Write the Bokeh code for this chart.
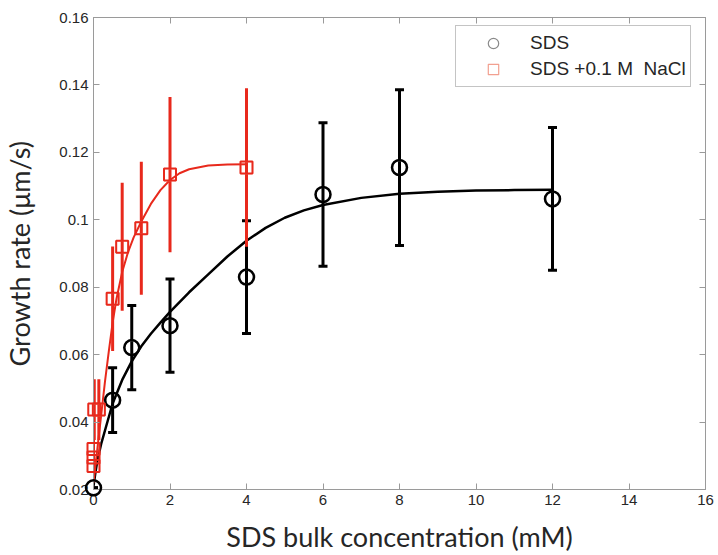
from bokeh.plotting import figure
from bokeh.models import (Range1d, LinearAxis, FixedTicker, Whisker, TeeHead,
                          ColumnDataSource, Legend, LegendItem)
from bokeh.embed import file_html
from bokeh.resources import INLINE

# ---- data ----
sds_x = [0, 0.5, 1, 2, 4, 6, 8, 12]
sds_y = [0.0205, 0.0465, 0.0621, 0.0686, 0.0830, 0.1075, 0.1155, 0.1062]
sds_err = [0.0, 0.0096, 0.0125, 0.0138, 0.0167, 0.0213, 0.0231, 0.0212]

nacl_x = [0, 0, 0, 0.02, 0.14, 0.5, 0.75, 1.25, 2, 4]
nacl_y = [0.027, 0.0295, 0.032, 0.0437, 0.0437, 0.0766, 0.0920, 0.0975, 0.1134, 0.1155]
nacl_err = [0.004, 0.004, 0.004, 0.009, 0.009, 0.0155, 0.019, 0.0197, 0.023, 0.0235]

# fitted curves
sds_fit_x = [0, 0.05, 0.1, 0.2, 0.3, 0.5, 0.75, 1, 1.25, 1.5, 1.75, 2, 2.5, 3, 3.5,
             4, 4.5, 5, 5.5, 6, 7, 8, 9, 10, 11, 12]
sds_fit_y = [0.021, 0.025, 0.0285, 0.0335, 0.0375, 0.0455, 0.0525, 0.0580, 0.0625,
             0.0662, 0.0695, 0.0727, 0.0785, 0.0838, 0.0891, 0.0938, 0.0976, 0.1006,
             0.1028, 0.1044, 0.1065, 0.1077, 0.1083, 0.1087, 0.1088, 0.1089]

nacl_fit_x = [0, 0.1, 0.2, 0.3, 0.4, 0.5, 0.6, 0.75, 0.9, 1.05, 1.25, 1.5, 1.75, 2,
              2.25, 2.5, 3, 3.5, 4]
nacl_fit_y = [0.022, 0.032, 0.042, 0.052, 0.061, 0.0695, 0.0765, 0.0845, 0.0903, 0.0948,
              0.0995, 0.1047, 0.1088, 0.1118, 0.1138, 0.1150, 0.1161, 0.1164, 0.1165]

x_ticks = [0, 2, 4, 6, 8, 10, 12, 14, 16]
y_ticks = [0.02, 0.04, 0.06, 0.08, 0.10, 0.12, 0.14, 0.16]
y_tick_labels = ["0.02", "0.04", "0.06", "0.08", "0.1", "0.12", "0.14", "0.16"]

legend_labels = ["SDS", "SDS +0.1 M  NaCl"]

BLACK = "#000000"
RED = "#e8291c"
FRAME = "#9a9a9a"
TXT = "#262626"

p = figure(width=718, height=555, x_range=Range1d(0, 16), y_range=Range1d(0.02, 0.16),
           output_backend="svg", toolbar_location=None,
           min_border_left=93, min_border_right=13, min_border_top=17, min_border_bottom=62)
p.xgrid.visible = False
p.ygrid.visible = False
p.outline_line_color = FRAME
p.background_fill_color = "white"
p.border_fill_color = "white"

def style_axis(ax, labels=True):
    ax.axis_line_color = FRAME
    ax.major_tick_line_color = FRAME
    ax.major_tick_in = 6
    ax.major_tick_out = 0
    ax.minor_tick_line_color = None
    ax.major_label_text_font = "Liberation Sans"
    ax.major_label_text_font_size = "15px"
    ax.major_label_text_color = TXT
    if not labels:
        ax.major_label_text_font_size = "0px"
        ax.major_label_text_alpha = 0
        ax.major_label_standoff = 0

p.xaxis.ticker = FixedTicker(ticks=x_ticks)
p.yaxis.ticker = FixedTicker(ticks=y_ticks)
p.yaxis.major_label_overrides = {t: l for t, l in zip(y_ticks, y_tick_labels)}
style_axis(p.xaxis[0])
style_axis(p.yaxis[0])
p.xaxis.axis_label = "SDS bulk concentration (mM)"
p.yaxis.axis_label = "Growth rate (\u03bcm/s)"
for ax in (p.xaxis[0], p.yaxis[0]):
    ax.axis_label_text_font = "Lato"
    ax.axis_label_text_font_size = "27px"
    ax.axis_label_text_font_style = "normal"
    ax.axis_label_text_color = TXT
p.xaxis[0].axis_label_standoff = 12
p.yaxis[0].axis_label_standoff = 20

top = LinearAxis(ticker=FixedTicker(ticks=x_ticks))
right = LinearAxis(ticker=FixedTicker(ticks=y_ticks))
style_axis(top, labels=False)
style_axis(right, labels=False)
p.add_layout(top, "above")
p.add_layout(right, "right")

# fit curves
p.line(sds_fit_x, sds_fit_y, line_color=BLACK, line_width=2.5)
p.line(nacl_fit_x, nacl_fit_y, line_color=RED, line_width=2)

# error bars
sds_src = ColumnDataSource(data=dict(x=sds_x, y=sds_y,
                                     upper=[a + b for a, b in zip(sds_y, sds_err)],
                                     lower=[a - b for a, b in zip(sds_y, sds_err)]))
nacl_src = ColumnDataSource(data=dict(x=nacl_x, y=nacl_y,
                                      upper=[a + b for a, b in zip(nacl_y, nacl_err)],
                                      lower=[a - b for a, b in zip(nacl_y, nacl_err)]))

p.segment(x0="x", y0="lower", x1="x", y1="upper", source=nacl_src,
          line_color=RED, line_width=3)
wk = Whisker(base="x", upper="upper", lower="lower", source=sds_src, dimension="height",
             line_color=BLACK, line_width=3,
             upper_head=TeeHead(size=9, line_color=BLACK, line_width=3),
             lower_head=TeeHead(size=9, line_color=BLACK, line_width=3))
p.add_layout(wk)

# legend proxies (faded symbols as in the reference), hidden under the real markers
leg_sds = p.scatter("x", "y", source=sds_src, marker="circle", size=14, fill_color=None,
                    line_color="#8a8a8a", line_width=1.2)
leg_nacl = p.scatter("x", "y", source=nacl_src, marker="square", size=12, fill_color=None,
                     line_color="#f2a090", line_width=1.2)

r_sds = p.scatter("x", "y", source=sds_src, marker="circle", size=15,
                  fill_color=None, line_color=BLACK, line_width=2.5)
r_nacl = p.scatter("x", "y", source=nacl_src, marker="square", size=12,
                   fill_color=None, line_color=RED, line_width=2)
r_sds.level = "overlay"
r_nacl.level = "overlay"

legend = Legend(items=[LegendItem(label=legend_labels[0], renderers=[leg_sds], index=0),
                       LegendItem(label=legend_labels[1], renderers=[leg_nacl], index=0)],
                location=(362, 402), orientation="vertical")
legend.label_text_font = "Liberation Sans"
legend.label_text_font_size = "19px"
legend.label_text_color = TXT
legend.label_height = 26
legend.glyph_height = 26
legend.glyph_width = 66
legend.label_standoff = 4
legend.spacing = 0
legend.padding = 4
legend.margin = 0
legend.border_line_color = "#8a8a8a"
legend.border_line_width = 1
legend.background_fill_color = "white"
legend.background_fill_alpha = 1
p.add_layout(legend, "center")

open("out.html", "w").write(file_html(p, INLINE))
